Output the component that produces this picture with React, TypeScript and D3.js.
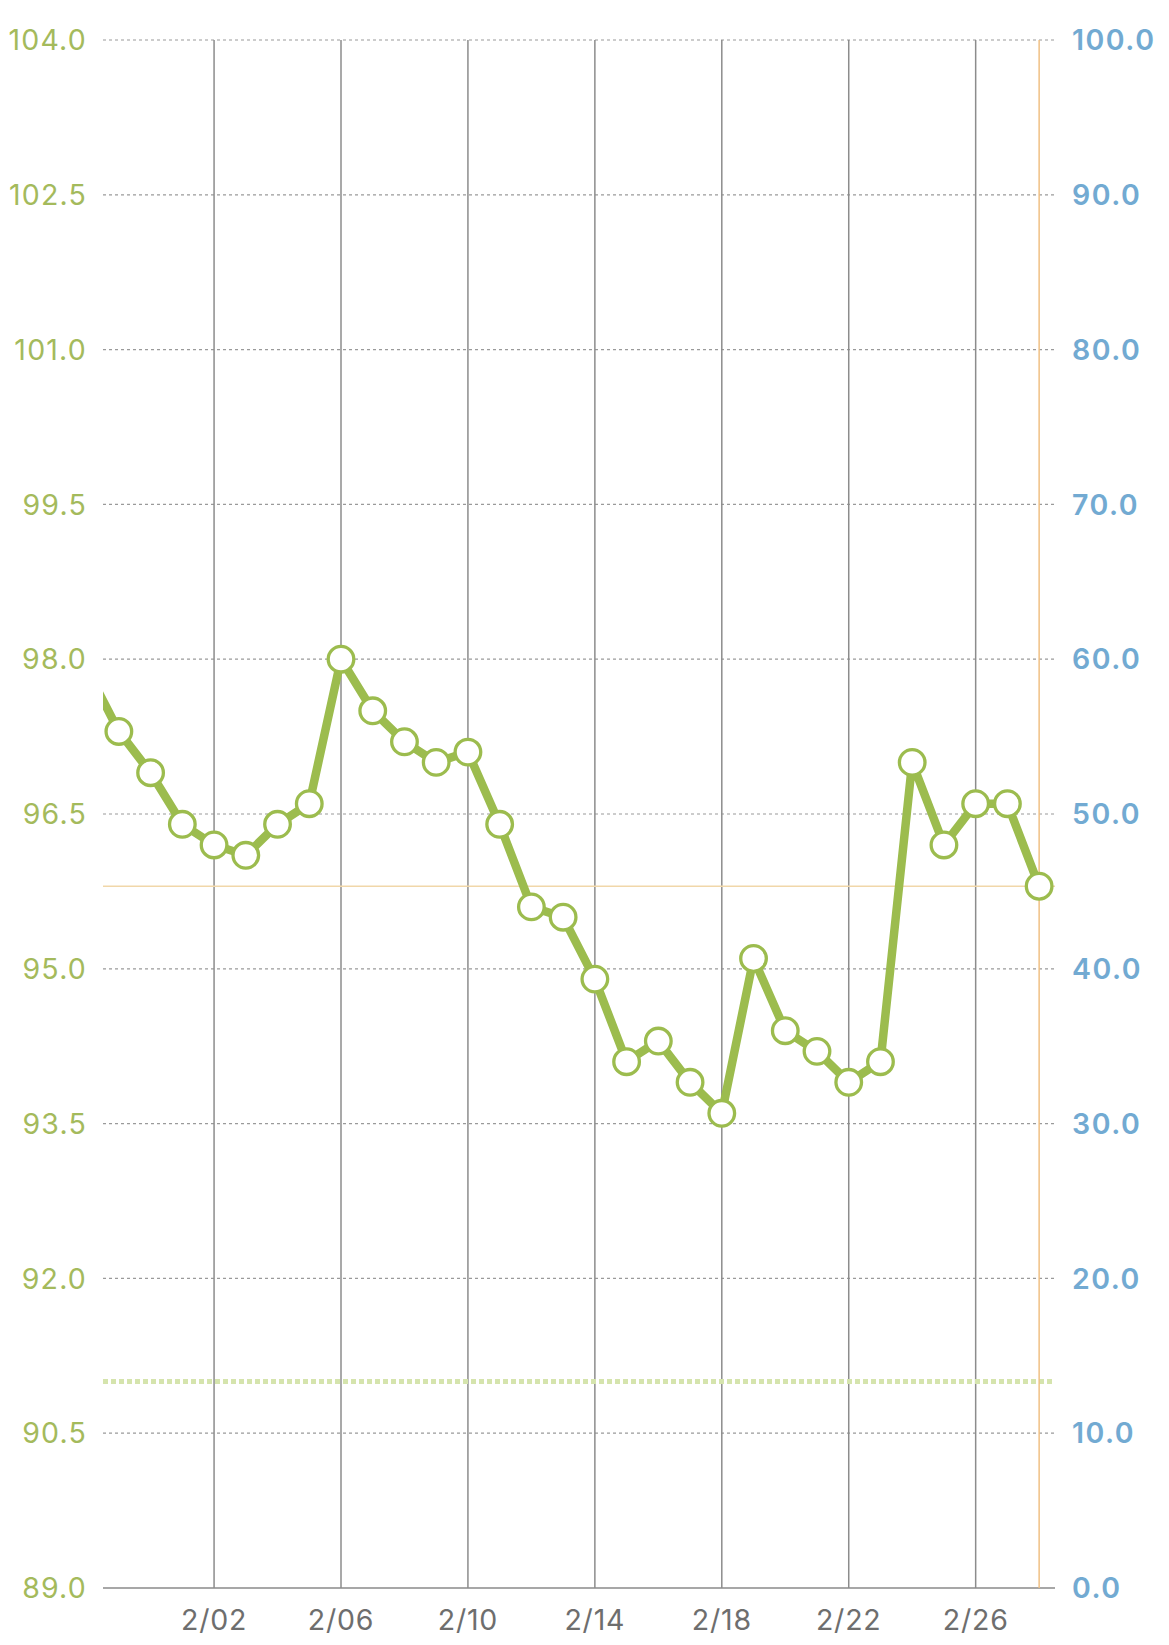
import { useEffect, useRef } from 'react';
import * as d3 from 'd3';

// daily readings, 1/29 .. 2/28
const startDate = '2021-01-29';
const weights = [
  97.9, 97.3, 96.9, 96.4, 96.2, 96.1, 96.4, 96.6, 98.0, 97.5, 97.2, 97.0,
  97.1, 96.4, 95.6, 95.5, 94.9, 94.1, 94.3, 93.9, 93.6, 95.1, 94.4, 94.2,
  93.9, 94.1, 97.0, 96.2, 96.6, 96.6, 95.8,
];
const leftTicks = [89.0, 90.5, 92.0, 93.5, 95.0, 96.5, 98.0, 99.5, 101.0, 102.5, 104.0];
const rightTicks = [0, 10, 20, 30, 40, 50, 60, 70, 80, 90, 100];
const dateTicks = ['2021-02-02', '2021-02-06', '2021-02-10', '2021-02-14', '2021-02-18', '2021-02-22', '2021-02-26'];
const goalValue = 91.0;
const latestValue = 95.8;
const latestDate = '2021-02-28';

const W = 1169;
const H = 1645;

export default function App() {
  const svgRef = useRef<SVGSVGElement>(null);

  useEffect(() => {
    if (!svgRef.current) return;
    const margin = { top: 40, right: 114, bottom: 57, left: 103 };
    const innerW = W - margin.left - margin.right;
    const innerH = H - margin.top - margin.bottom;

    const svg = d3.select(svgRef.current);
    svg.selectAll('*').remove();

    const parse = d3.utcParse('%Y-%m-%d');
    const start = parse(startDate)!;
    const data = weights.map((v, i) => ({ date: d3.utcDay.offset(start, i), value: v }));

    const half = 12 * 3600 * 1000;
    const x = d3.scaleUtc()
      .domain([new Date(start.getTime() + half), new Date(parse(latestDate)!.getTime() + half)])
      .range([0, innerW]);
    const y = d3.scaleLinear().domain([89, 104]).range([innerH, 0]);
    const y2 = d3.scaleLinear().domain([0, 100]).range([innerH, 0]);

    svg.append('defs').append('clipPath').attr('id', 'plot-clip')
      .append('rect').attr('x', 0).attr('y', -20).attr('width', innerW).attr('height', innerH + 40);

    const g = svg.append('g').attr('transform', `translate(${margin.left},${margin.top})`);
    const font = 'Inter, "Open Sans", "DejaVu Sans", sans-serif';

    // horizontal dashed grid
    g.append('g')
      .selectAll('line')
      .data(leftTicks.slice(1))
      .join('line')
      .attr('x1', 0)
      .attr('x2', innerW)
      .attr('y1', d => y(d))
      .attr('y2', d => y(d))
      .attr('stroke', '#9a9a9a')
      .attr('stroke-width', 1.2)
      .attr('stroke-dasharray', '3,3');

    // baseline
    g.append('line')
      .attr('x1', 0).attr('x2', innerW)
      .attr('y1', innerH).attr('y2', innerH)
      .attr('stroke', '#8a8a8a').attr('stroke-width', 1.5);

    // vertical grid
    g.append('g')
      .selectAll('line')
      .data(dateTicks.map(d => parse(d)!))
      .join('line')
      .attr('x1', d => x(d))
      .attr('x2', d => x(d))
      .attr('y1', 0)
      .attr('y2', innerH)
      .attr('stroke', '#8c8c8c')
      .attr('stroke-width', 1.5);

    // goal line
    g.append('line')
      .attr('x1', 0).attr('x2', innerW)
      .attr('y1', y(goalValue)).attr('y2', y(goalValue))
      .attr('stroke', '#d5e4ad')
      .attr('stroke-width', 5)
      .attr('stroke-dasharray', '5,3');

    // latest marker lines
    g.append('line')
      .attr('x1', 0).attr('x2', innerW)
      .attr('y1', y(latestValue)).attr('y2', y(latestValue))
      .attr('stroke', '#f1d7a9').attr('stroke-width', 1.5);
    g.append('line')
      .attr('x1', x(parse(latestDate)!)).attr('x2', x(parse(latestDate)!))
      .attr('y1', 0).attr('y2', innerH)
      .attr('stroke', '#f0c084').attr('stroke-width', 1.5);

    const plot = g.append('g').attr('clip-path', 'url(#plot-clip)');

    const line = d3.line<{ date: Date; value: number }>()
      .x(d => x(d.date))
      .y(d => y(d.value));

    plot.append('path')
      .datum(data)
      .attr('d', line)
      .attr('fill', 'none')
      .attr('stroke', '#9cbc4e')
      .attr('stroke-width', 8.5)
      .attr('stroke-linejoin', 'miter');

    plot.selectAll('circle')
      .data(data)
      .join('circle')
      .attr('cx', d => x(d.date))
      .attr('cy', d => y(d.value))
      .attr('r', 12.8)
      .attr('fill', '#ffffff')
      .attr('stroke', '#9cbc4e')
      .attr('stroke-width', 3.3);

    // left axis labels
    g.append('g')
      .selectAll('text')
      .data(leftTicks)
      .join('text')
      .attr('x', -16)
      .attr('y', d => y(d))
      .attr('dy', '0.36em')
      .attr('text-anchor', 'end')
      .style('font-family', font)
      .style('font-size', '28.5px')
      .style('letter-spacing', '1.2px')
      .style('fill', '#a4ba5c')
      .text(d => d.toFixed(1));

    // right axis labels
    g.append('g')
      .selectAll('text')
      .data(rightTicks)
      .join('text')
      .attr('x', innerW + 17)
      .attr('y', d => y2(d))
      .attr('dy', '0.36em')
      .attr('text-anchor', 'start')
      .style('font-family', font)
      .style('font-size', '28.5px')
      .style('letter-spacing', '1.5px')
      .style('font-weight', 600)
      .style('fill', '#72aad2')
      .text(d => d.toFixed(1));

    // date labels
    const fmt = d3.utcFormat('%-m/%d');
    g.append('g')
      .selectAll('text')
      .data(dateTicks.map(d => parse(d)!))
      .join('text')
      .attr('x', d => x(d))
      .attr('y', innerH + 42)
      .attr('text-anchor', 'middle')
      .style('font-family', font)
      .style('font-size', '28.5px')
      .style('letter-spacing', '0.8px')
      .style('fill', '#6e6e6e')
      .text(d => fmt(d));
  }, []);

  return (
    <div style={{ position: 'absolute', left: 0, top: 0, width: W, height: H, background: '#fff' }}>
      <svg ref={svgRef} width={W} height={H}></svg>
    </div>
  );
}
